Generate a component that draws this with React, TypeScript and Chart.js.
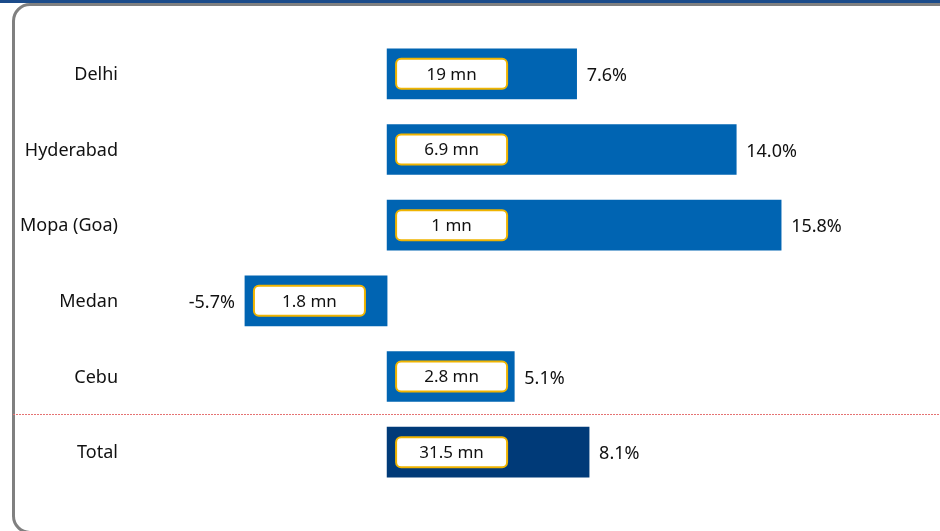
import React, { useEffect, useRef } from "react";
import { Chart, registerables } from "chart.js";

Chart.register(...registerables);

const categories = ["Delhi", "Hyderabad", "Mopa (Goa)", "Medan", "Cebu", "Total"];
const growthPct = [7.6, 14.0, 15.8, -5.7, 5.1, 8.1];
const passengerLabels = ["19 mn", "6.9 mn", "1 mn", "1.8 mn", "2.8 mn", "31.5 mn"];
const barColors = ["#0064B2", "#0064B2", "#0064B2", "#0064B2", "#0064B2", "#003A78"];

const FONT = "'Noto Sans', 'Open Sans', sans-serif";

const labelPlugin = {
  id: "labelPlugin",
  afterDatasetsDraw(chart: any) {
    const ctx = chart.ctx as CanvasRenderingContext2D;
    const meta = chart.getDatasetMeta(0);
    const yScale = chart.scales.y;
    ctx.save();
    // separator dashed line between Cebu and Total
    const ySep = (yScale.getPixelForValue(4) + yScale.getPixelForValue(5)) / 2;
    ctx.strokeStyle = "#E57373";
    ctx.lineWidth = 1;
    ctx.setLineDash([2, 1]);
    ctx.beginPath();
    ctx.moveTo(13, Math.round(ySep) + 0.5);
    ctx.lineTo(chart.width, Math.round(ySep) + 0.5);
    ctx.stroke();
    ctx.setLineDash([]);

    categories.forEach((cat, i) => {
      const yc = yScale.getPixelForValue(i) + 1;
      // category label
      ctx.fillStyle = "#111111";
      ctx.font = `18px ${FONT}`;
      ctx.textAlign = "right";
      ctx.textBaseline = "middle";
      ctx.fillText(cat, 118, yc);

      const bar = meta.data[i];
      const v = growthPct[i];
      const left = Math.min(bar.x, bar.base);
      const right = Math.max(bar.x, bar.base);
      // white rounded label box
      const bw = 111;
      const bh = 30;
      const bx = left + 9;
      const by = yc - bh / 2 - 1;
      ctx.beginPath();
      (ctx as any).roundRect(bx, by, bw, bh, 5);
      ctx.fillStyle = "#FFFFFF";
      ctx.fill();
      ctx.lineWidth = 2;
      ctx.strokeStyle = "#F0B400";
      ctx.stroke();
      ctx.fillStyle = "#111111";
      ctx.font = `17px ${FONT}`;
      ctx.textAlign = "center";
      ctx.fillText(passengerLabels[i], bx + bw / 2, yc);

      // percentage label
      ctx.font = `18px ${FONT}`;
      const txt = `${v.toFixed(1)}%`;
      if (v >= 0) {
        ctx.textAlign = "left";
        ctx.fillText(txt, right + 10, yc + 1);
      } else {
        ctx.textAlign = "right";
        ctx.fillText(txt, left - 10, yc + 1);
      }
    });
    ctx.restore();
  },
};

export default function App() {
  const canvasRef = useRef<HTMLCanvasElement | null>(null);

  useEffect(() => {
    document.body.style.margin = "0";
    const canvas = canvasRef.current!;
    const chart = new Chart(canvas, {
      type: "bar",
      data: {
        labels: categories,
        datasets: [
          {
            data: growthPct,
            backgroundColor: barColors,
            borderWidth: 0,
            barThickness: 50,
          },
        ],
      },
      options: {
        indexAxis: "y",
        animation: false,
        responsive: false,
        maintainAspectRatio: false,
        layout: { padding: { left: 13, right: 0, top: 36, bottom: 41 } },
        plugins: {
          legend: { display: false },
          tooltip: { enabled: false },
        },
        scales: {
          x: { display: false, min: -15, max: 22.17 },
          y: { display: false },
        },
      },
      plugins: [labelPlugin],
    });
    return () => chart.destroy();
  }, []);

  return (
    <div style={{ position: "relative", width: 940, height: 531, overflow: "hidden", background: "#FFFFFF" }}>
      <div style={{ position: "absolute", left: 0, top: 0, width: 940, height: 3, background: "#1B4B8A" }} />
      <div
        style={{
          position: "absolute",
          left: 12,
          top: 3,
          width: 960,
          height: 531,
          border: "3px solid #808080",
          borderRadius: 18,
          boxSizing: "border-box",
        }}
      />
      <canvas
        ref={canvasRef}
        width={940}
        height={531}
        style={{ position: "absolute", left: 0, top: 0, width: 940, height: 531 }}
      />
    </div>
  );
}
